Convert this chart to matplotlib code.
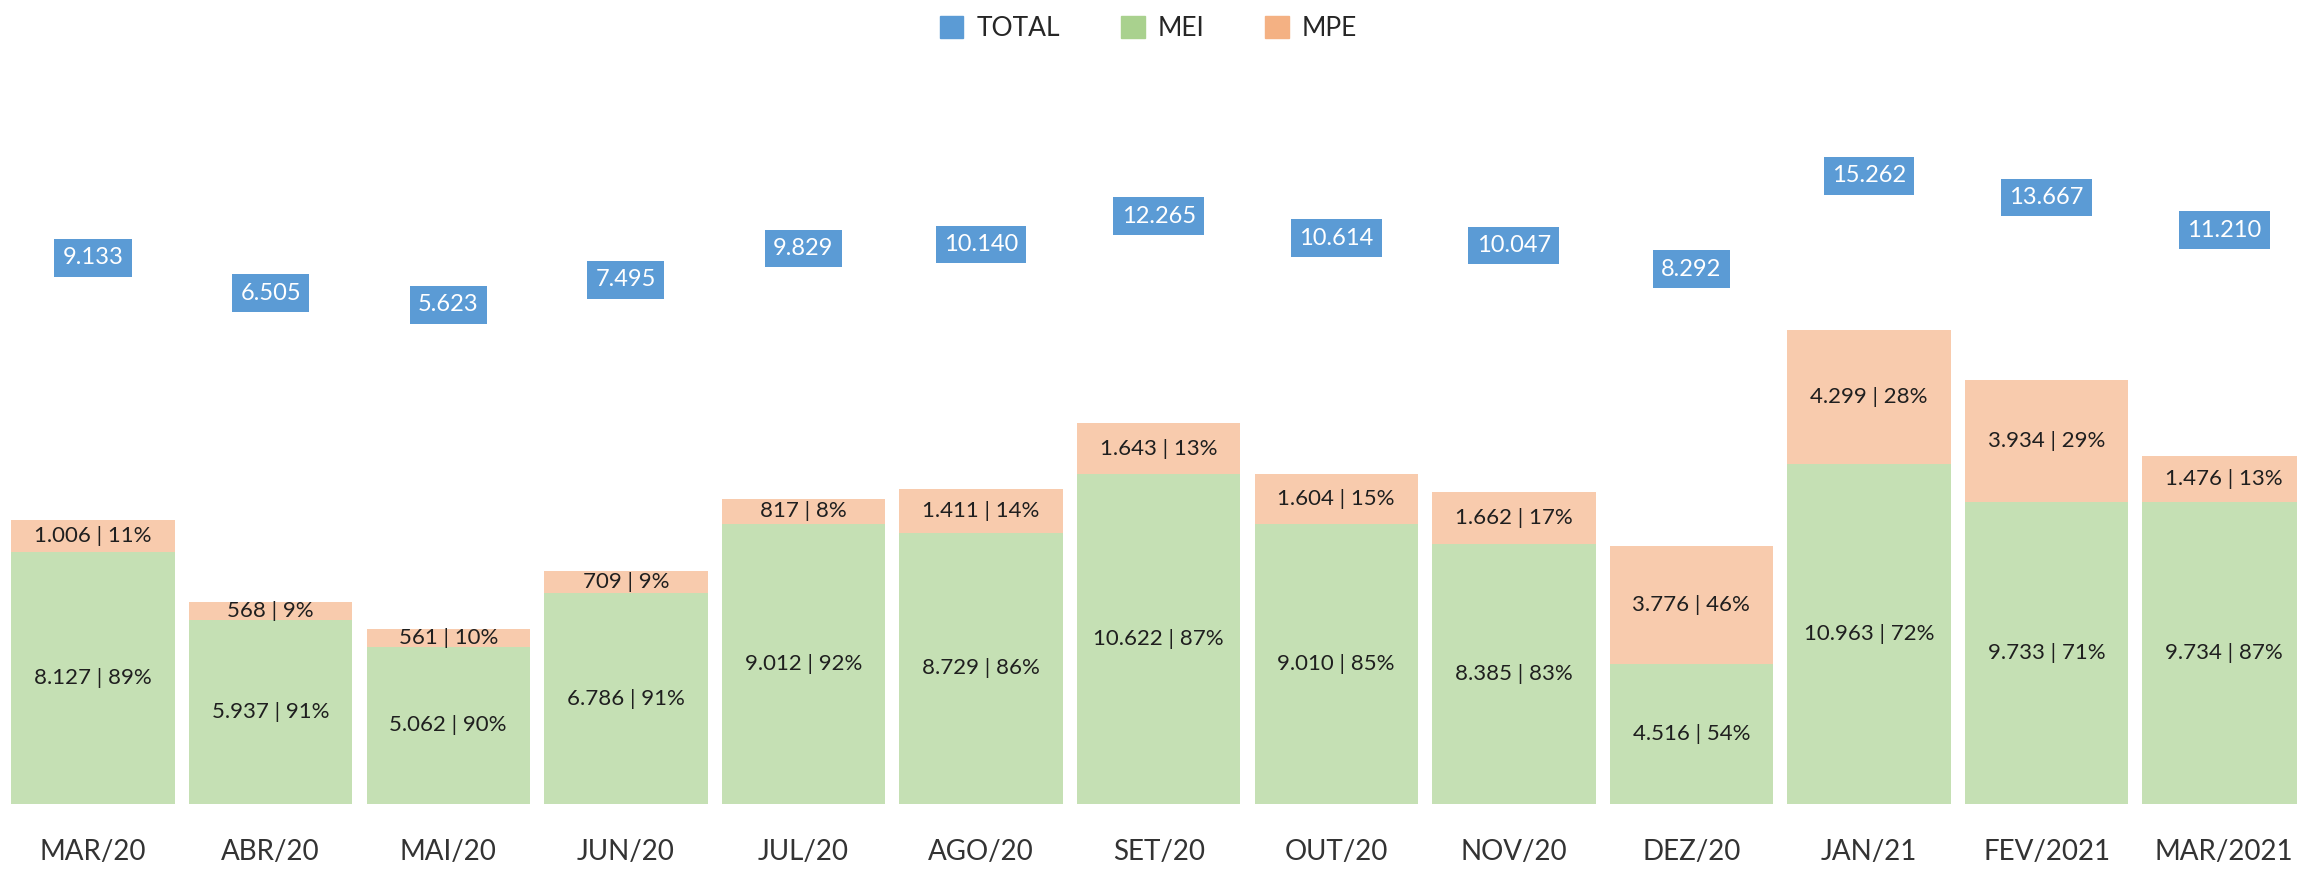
import numpy as np
import matplotlib.pyplot as plt
from matplotlib.patches import Patch

plt.rcParams['font.family'] = ['Lato', 'DejaVu Sans']

meses = ['MAR/20', 'ABR/20', 'MAI/20', 'JUN/20', 'JUL/20', 'AGO/20', 'SET/20',
         'OUT/20', 'NOV/20', 'DEZ/20', 'JAN/21', 'FEV/2021', 'MAR/2021']
mei = [8127, 5937, 5062, 6786, 9012, 8729, 10622, 9010, 8385, 4516, 10963, 9733, 9734]
mpe = [1006, 568, 561, 709, 817, 1411, 1643, 1604, 1662, 3776, 4299, 3934, 1476]
total = [9133, 6505, 5623, 7495, 9829, 10140, 12265, 10614, 10047, 8292, 15262, 13667, 11210]

c_total = '#5B9BD5'
c_mei = '#C5E0B4'
c_mpe = '#F8CBAD'
txt = '#1f1f1f'


def fmt(v):
    return f"{v:,}".replace(',', '.')


fig = plt.figure(figsize=(22.97, 8.72), dpi=100)
ax = fig.add_axes([0, 0.078, 1, 0.853])
x = np.arange(len(meses))
mei = np.array(mei)
mpe = np.array(mpe)

ax.bar(x, mei, width=0.92, color=c_mei)
ax.bar(x, mpe, width=0.92, bottom=mei, color=c_mpe)

for i in range(len(meses)):
    t = mei[i] + mpe[i]
    p_mei = round(mei[i] / t * 100)
    p_mpe = round(mpe[i] / t * 100)
    ax.text(x[i], mei[i] / 2, f"{fmt(mei[i])} | {p_mei}%", ha='center', va='center',
            fontsize=16, color=txt)
    ax.text(x[i], mei[i] + mpe[i] / 2, f"{fmt(mpe[i])} | {p_mpe}%", ha='center', va='center',
            fontsize=16, color=txt)

ax.set_xlim(-0.524, 12.41)
ax.set_ylim(0, 23953)
ax.set_xticks(x)
ax.set_xticklabels(meses, fontsize=20, color='#333333')
ax.tick_params(axis='x', length=0, pad=25)
ax.set_yticks([])
for s in ax.spines.values():
    s.set_visible(False)

# total no eixo secundario
ax2 = ax.twinx()
ax2.set_ylim(-31689, 23916)
ax2.plot(x, total, linestyle='none')
for i, v in enumerate(total):
    ax2.text(x[i], v, fmt(v), ha='center', va='center', fontsize=17, color='white',
             bbox=dict(boxstyle='square,pad=0.35', fc=c_total, ec='none'))
ax2.set_yticks([])
for s in ax2.spines.values():
    s.set_visible(False)

handles = [Patch(color='#5B9BD5', label='TOTAL'),
           Patch(color='#A9D18E', label='MEI'),
           Patch(color='#F4B183', label='MPE')]
fig.legend(handles=handles, loc='center', bbox_to_anchor=(0.5, 0.967), ncol=3,
           frameon=False, fontsize=19, handlelength=0.9, handleheight=0.9,
           columnspacing=2.3, handletextpad=0.5, labelcolor='#262626')

fig.savefig('out.png', dpi=100)
